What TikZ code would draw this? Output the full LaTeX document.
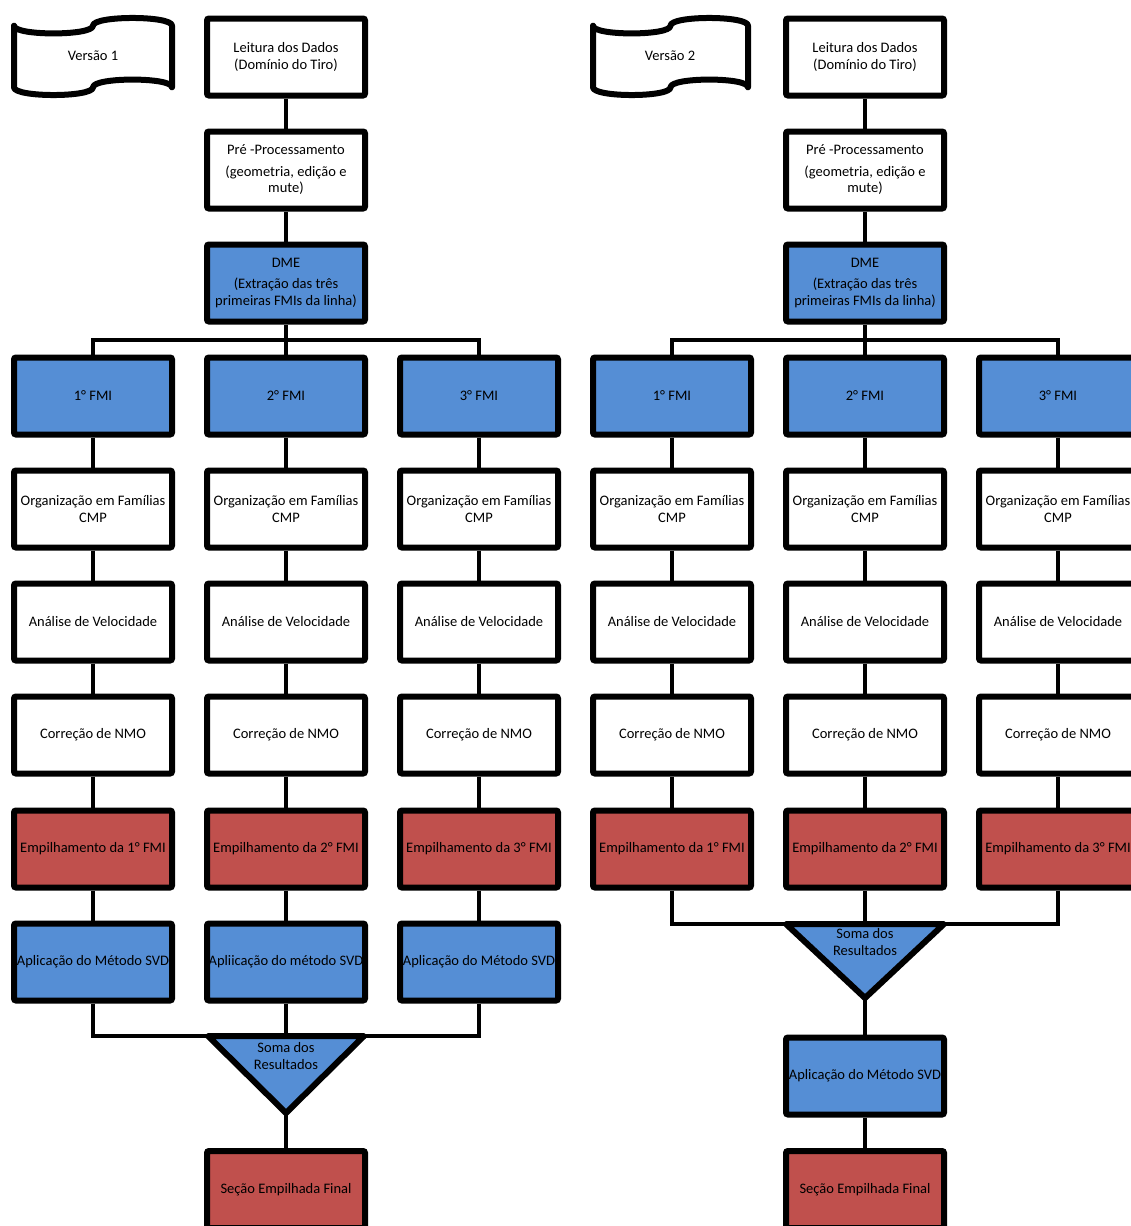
\documentclass[tikz,border=0pt]{standalone}
\usepackage{fontspec}
\setmainfont{Carlito}
\usetikzlibrary{backgrounds}

\definecolor{boxblue}{RGB}{85,142,213}
\definecolor{boxred}{RGB}{192,80,77}

\begin{document}
\begin{tikzpicture}[x=1pt,y=-1pt,
  every node/.style={font=\fontsize{14.5}{16.5}\selectfont, align=center, inner sep=0pt},
  proc/.style={draw=black, line width=6pt, rounded corners=2pt,
               minimum width=158pt, minimum height=77pt, fill=white},
  procblue/.style={proc, fill=boxblue},
  procred/.style={proc, fill=boxred},
  link/.style={line width=3.5pt},
  tapeshape/.style={draw=black, line width=6pt, line join=round, fill=white},
  sumtri/.style={draw=black, line width=6pt, line join=round, fill=boxblue},
]
\useasboundingbox (0,0) rectangle (1130,1226);

% ---------- Version 1 ----------
\draw[tapeshape] (14,25.7) .. controls (14,36) and (93,36) .. (93,25.7)
  .. controls (93,15.4) and (172,15.4) .. (172,25.7) -- (172,87.3)
  .. controls (172,77) and (93,77) .. (93,87.3)
  .. controls (93,97.6) and (14,97.6) .. (14,87.3) -- cycle;
\node (ver1) at (93,56) {Versão 1};

\node[proc] (lei1) at (286,57) {Leitura dos Dados\\(Domínio do Tiro)};
\node[proc] (pre1) at (286,170) {Pré -Processamento\\[5pt](geometria, edição e\\mute)};
\node[procblue] (dme1) at (286,283) {DME\\[5pt](Extração das três\\primeiras FMIs da linha)};

\foreach \i/\x in {1/93, 2/286, 3/479} {
  \node[procblue] (fmiA\i) at (\x,396) {\i° FMI};
  \node[proc] (orgA\i) at (\x,509) {Organização em Famílias\\CMP};
  \node[proc] (velA\i) at (\x,622) {Análise de Velocidade};
  \node[proc] (nmoA\i) at (\x,735) {Correção de NMO};
  \node[procred] (empA\i) at (\x,849) {Empilhamento da \i° FMI};
}
\node[procblue] (svdA1) at (93,962) {Aplicação do Método SVD};
\node[procblue] (svdA2) at (286,962) {Apliicação do método SVD};
\node[procblue] (svdA3) at (479,962) {Aplicação do Método SVD};

\coordinate (busA) at (286,340);
\coordinate (triAL) at (208,1036);
\coordinate (triAR) at (364,1036);
\coordinate (triAT) at (286,1036);
\coordinate (triAB) at (286,1113);
\draw[sumtri] (triAL) -- (triAR) -- (triAB) -- cycle;
\node (sumA) at (286,1056) {Soma dos\\Resultados};
\node[procred] (finA) at (286,1189.5) {Seção Empilhada Final};

% ---------- Version 2 ----------
\draw[tapeshape] (593,25.7) .. controls (593,36) and (670.5,36) .. (670.5,25.7)
  .. controls (670.5,15.4) and (748,15.4) .. (748,25.7) -- (748,87.3)
  .. controls (748,77) and (670.5,77) .. (670.5,87.3)
  .. controls (670.5,97.6) and (593,97.6) .. (593,87.3) -- cycle;
\node (ver2) at (670,56) {Versão 2};

\node[proc] (lei2) at (865,57) {Leitura dos Dados\\(Domínio do Tiro)};
\node[proc] (pre2) at (865,170) {Pré -Processamento\\[5pt](geometria, edição e\\mute)};
\node[procblue] (dme2) at (865,283) {DME\\[5pt](Extração das três\\primeiras FMIs da linha)};

\foreach \i/\x in {1/672, 2/865, 3/1058} {
  \node[procblue] (fmiB\i) at (\x,396) {\i° FMI};
  \node[proc] (orgB\i) at (\x,509) {Organização em Famílias\\CMP};
  \node[proc] (velB\i) at (\x,622) {Análise de Velocidade};
  \node[proc] (nmoB\i) at (\x,735) {Correção de NMO};
  \node[procred] (empB\i) at (\x,849) {Empilhamento da \i° FMI};
}

\coordinate (busB) at (865,340);
\coordinate (triBL) at (786,924);
\coordinate (triBR) at (944,924);
\coordinate (triBT) at (865,924);
\coordinate (triBB) at (865,998);
\draw[sumtri] (triBL) -- (triBR) -- (triBB) -- cycle;
\node (sumB) at (865,942) {Soma dos\\Resultados};
\node[procblue] (svdB) at (865,1076) {Aplicação do Método SVD};
\node[procred] (finB) at (865,1189.5) {Seção Empilhada Final};

% ---------- connectors ----------
\begin{scope}[on background layer]
  \draw[link] (lei1) -- (pre1);
  \draw[link] (pre1) -- (dme1);
  \draw[link] (dme1) -- (fmiA2);
  \draw[link] (fmiA1.north) |- (busA) -| (fmiA3.north);
  \foreach \i in {1,2,3} {
    \draw[link] (fmiA\i) -- (orgA\i);
    \draw[link] (orgA\i) -- (velA\i);
    \draw[link] (velA\i) -- (nmoA\i);
    \draw[link] (nmoA\i) -- (empA\i);
    \draw[link] (empA\i) -- (svdA\i);
  }
  \draw[link] (svdA1.south) |- (triAL);
  \draw[link] (svdA3.south) |- (triAR);
  \draw[link] (svdA2.south) -- (triAT);
  \draw[link] (triAB) -- (finA.north);

  \draw[link] (lei2) -- (pre2);
  \draw[link] (pre2) -- (dme2);
  \draw[link] (dme2) -- (fmiB2);
  \draw[link] (fmiB1.north) |- (busB) -| (fmiB3.north);
  \foreach \i in {1,2,3} {
    \draw[link] (fmiB\i) -- (orgB\i);
    \draw[link] (orgB\i) -- (velB\i);
    \draw[link] (velB\i) -- (nmoB\i);
    \draw[link] (nmoB\i) -- (empB\i);
  }
  \draw[link] (empB1.south) |- (triBL);
  \draw[link] (empB3.south) |- (triBR);
  \draw[link] (empB2.south) -- (triBT);
  \draw[link] (triBB) -- (svdB.north);
  \draw[link] (svdB) -- (finB);
\end{scope}
\end{tikzpicture}
\end{document}
